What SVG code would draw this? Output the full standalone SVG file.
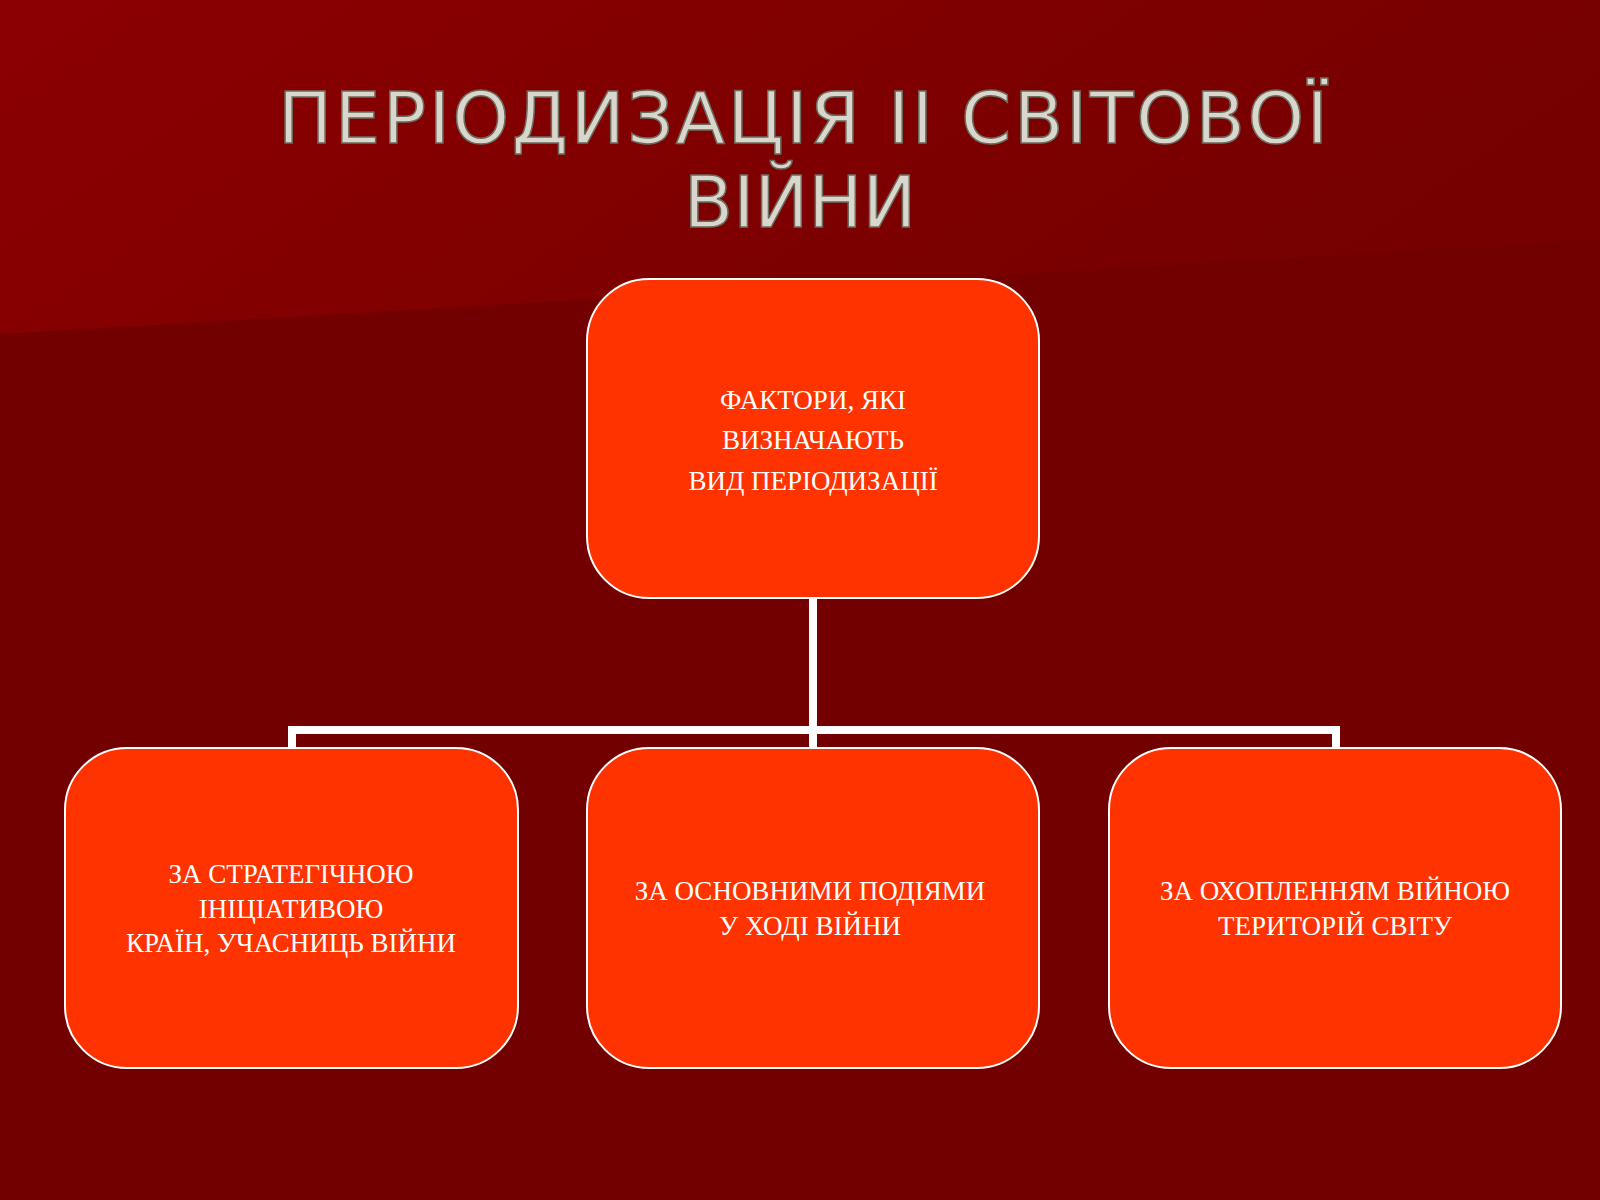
<svg xmlns="http://www.w3.org/2000/svg" width="1600" height="1200" viewBox="0 0 1600 1200">
<defs>
<linearGradient id="tg" x1="0" y1="0" x2="1" y2="0.3">
<stop offset="0" stop-color="#8c0000"/><stop offset="1" stop-color="#760000"/>
</linearGradient>
<style>
.box{fill:#ff3300;stroke:#ffffff;stroke-width:2}
.bt{font-family:"Liberation Serif",serif;font-size:27px;fill:#ffffff;text-anchor:middle}
.ti{font-family:"DejaVu Sans",sans-serif;font-size:72px;fill:#d9d6cc;stroke:#6b6b60;stroke-width:1.5;text-anchor:middle}
</style>
</defs>
<rect width="1600" height="1200" fill="#720000"/>
<polygon points="0,0 1600,0 1600,240 0,334" fill="url(#tg)"/>
<text class="ti" x="803" y="143" textLength="1050">ПЕРІОДИЗАЦІЯ ІІ СВІТОВОЇ</text>
<text class="ti" x="800" y="227">ВІЙНИ</text>
<g id="connectors" fill="none" stroke="#ffffff" stroke-width="8">
<path d="M813,598 V730 M292,748 V730 H1336 V748 M813,730 V748"/>
</g>
<g id="top"><rect class="box" x="587" y="279" width="452" height="319" rx="62"/>
<text class="bt" x="813" y="409">ФАКТОРИ, ЯКІ</text><text class="bt" x="813" y="449">ВИЗНАЧАЮТЬ</text><text class="bt" x="813" y="490">ВИД ПЕРІОДИЗАЦІЇ</text></g>
<g id="left"><rect class="box" x="65" y="748" width="453" height="320" rx="62"/>
<text class="bt" x="291" y="883">ЗА СТРАТЕГІЧНОЮ</text><text class="bt" x="291" y="918">ІНІЦІАТИВОЮ</text><text class="bt" x="291" y="952">КРАЇН, УЧАСНИЦЬ ВІЙНИ</text></g>
<g id="mid"><rect class="box" x="587" y="748" width="452" height="320" rx="62"/>
<text class="bt" x="810" y="900">ЗА ОСНОВНИМИ ПОДІЯМИ</text><text class="bt" x="810" y="935">У ХОДІ ВІЙНИ</text></g>
<g id="right"><rect class="box" x="1109" y="748" width="452" height="320" rx="62"/>
<text class="bt" x="1335" y="900">ЗА ОХОПЛЕННЯМ ВІЙНОЮ</text><text class="bt" x="1335" y="935">ТЕРИТОРІЙ СВІТУ</text></g>
</svg>
